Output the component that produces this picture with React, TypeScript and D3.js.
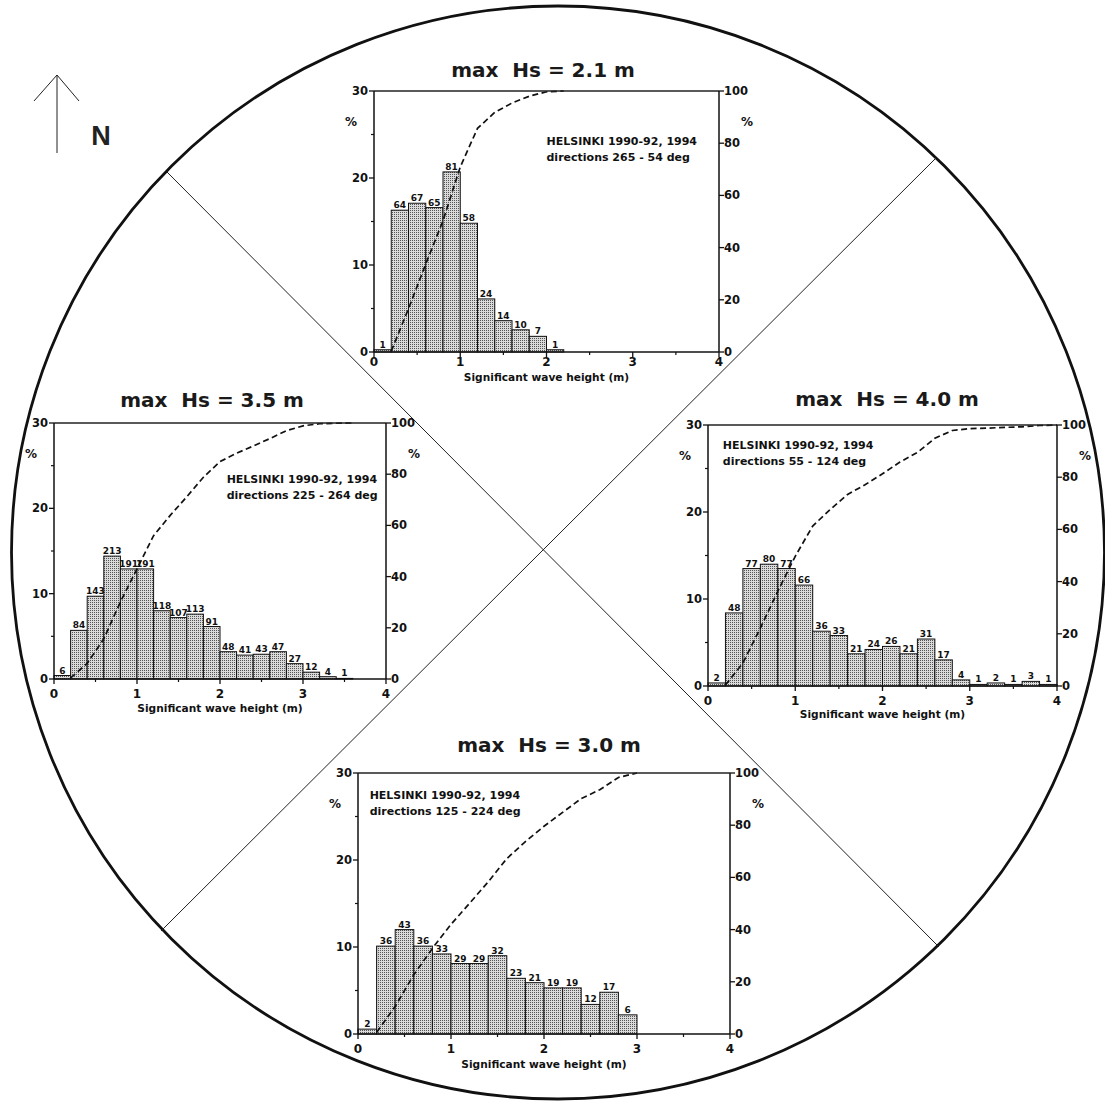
import React from "react";
import * as d3 from "d3";

// ---------- DATA ----------
const binEdges = [0, 0.2, 0.4, 0.6, 0.8, 1.0, 1.2, 1.4, 1.6, 1.8, 2.0, 2.2, 2.4, 2.6, 2.8, 3.0, 3.2, 3.4, 3.6, 3.8, 4.0];

const xTicks = [0, 1, 2, 3, 4];
const xMinorTicks = [0.5, 1.5, 2.5, 3.5];
const yTicks = [0, 10, 20, 30];
const yMinorTicks = [5, 15, 25];
const y2Ticks = [0, 20, 40, 60, 80, 100];

const stationText = "HELSINKI 1990-92, 1994";
const axisTitle = "Significant wave height (m)";

// Chart N (directions 265 - 54 deg)
const titleN = "max  Hs = 2.1 m";
const dirN = "directions 265 - 54 deg";
const countsN = [1, 64, 67, 65, 81, 58, 24, 14, 10, 7, 1];
const pctN = [0.26, 16.3, 17.1, 16.6, 20.7, 14.8, 6.1, 3.6, 2.55, 1.8, 0.26];
const cumN = [0.3, 16.6, 33.7, 50.3, 70.9, 85.7, 91.8, 95.4, 98.0, 99.7, 100];

// Chart W (directions 225 - 264 deg)
const titleW = "max  Hs = 3.5 m";
const dirW = "directions 225 - 264 deg";
const countsW = [6, 84, 143, 213, 191, 191, 118, 107, 113, 91, 48, 41, 43, 47, 27, 12, 4, 1];
const pctW = [0.41, 5.7, 9.7, 14.4, 12.9, 12.9, 8.0, 7.2, 7.6, 6.15, 3.2, 2.8, 2.9, 3.2, 1.8, 0.8, 0.27, 0.07];
const cumW = [0.4, 6.1, 15.7, 30.1, 43.0, 56.0, 63.9, 71.2, 78.8, 84.9, 88.2, 91.0, 93.9, 97.0, 98.9, 99.7, 99.9, 100];

// Chart E (directions 55 - 124 deg)
const titleE = "max  Hs = 4.0 m";
const dirE = "directions 55 - 124 deg";
const countsE = [2, 48, 77, 80, 77, 66, 36, 33, 21, 24, 26, 21, 31, 17, 4, 1, 2, 1, 3, 1];
const pctE = [0.35, 8.4, 13.5, 14.0, 13.5, 11.6, 6.3, 5.8, 3.7, 4.2, 4.55, 3.7, 5.4, 3.0, 0.7, 0.18, 0.35, 0.18, 0.53, 0.18];
const cumE = [0.35, 8.8, 22.2, 36.3, 49.7, 61.3, 67.6, 73.4, 77.1, 81.3, 85.8, 89.5, 94.9, 97.9, 98.6, 98.8, 99.1, 99.3, 99.8, 100];

// Chart S (directions 125 - 224 deg)
const titleS = "max  Hs = 3.0 m";
const dirS = "directions 125 - 224 deg";
const countsS = [2, 36, 43, 36, 33, 29, 29, 32, 23, 21, 19, 19, 12, 17, 6];
const pctS = [0.56, 10.1, 12.0, 10.1, 9.2, 8.1, 8.1, 9.0, 6.4, 5.9, 5.3, 5.3, 3.4, 4.8, 2.2];
const cumS = [0.6, 10.6, 22.7, 32.8, 42.0, 50.1, 58.3, 67.2, 73.7, 79.6, 84.9, 90.2, 93.6, 98.3, 100];

// ---------- LAYOUT ----------
const FONT = "'DejaVu Sans', sans-serif";

type Layout = {
  x0: number; x1: number; yTop: number; yBot: number;
  titleX: number; titleY: number;
  annX: number; annY: number;
  tickOff: number; axisTitleOff: number;
};

const layoutN: Layout = { x0: 374, x1: 719, yTop: 91, yBot: 352, titleX: 543, titleY: 77, annX: 2.0, annY: 23.8, tickOff: 14, axisTitleOff: 29 };
const layoutW: Layout = { x0: 54, x1: 386, yTop: 423, yBot: 679, titleX: 212, titleY: 407, annX: 2.08, annY: 23.0, tickOff: 19, axisTitleOff: 33 };
const layoutE: Layout = { x0: 708, x1: 1057, yTop: 425, yBot: 686, titleX: 887, titleY: 406, annX: 0.17, annY: 27.2, tickOff: 19, axisTitleOff: 32 };
const layoutS: Layout = { x0: 358, x1: 730, yTop: 773, yBot: 1034, titleX: 549, titleY: 752, annX: 0.125, annY: 27.0, tickOff: 19, axisTitleOff: 34 };

type ChartProps = {
  L: Layout; title: string; dir: string;
  counts: number[]; pct: number[]; cum: number[];
};

function Histogram({ L, title, dir, counts, pct, cum }: ChartProps) {
  const x = d3.scaleLinear().domain([0, 4]).range([L.x0, L.x1]);
  const y = d3.scaleLinear().domain([0, 30]).range([L.yBot, L.yTop]);
  const y2 = d3.scaleLinear().domain([0, 100]).range([L.yBot, L.yTop]);
  const line = d3
    .line<[number, number]>()
    .x((d) => x(d[0]))
    .y((d) => y2(d[1]));
  const cumPts: [number, number][] = cum.map((c, i) => [binEdges[i + 1], c]);

  return (
    <g>
      {/* title */}
      <text x={L.titleX} y={L.titleY} textAnchor="middle" fontFamily={FONT} fontWeight="bold" fontSize={20} fill="#1a1a1a" style={{ whiteSpace: "pre" }}>
        {title}
      </text>

      {/* bars */}
      {pct.map((p, i) => (
        <rect
          key={"b" + i}
          x={x(binEdges[i])}
          y={y(p)}
          width={x(binEdges[i + 1]) - x(binEdges[i])}
          height={y(0) - y(p)}
          fill="url(#stipple)"
          stroke="#111"
          strokeWidth={1}
        />
      ))}
      {/* bar labels */}
      {pct.map((p, i) => (
        <text
          key={"l" + i}
          x={x((binEdges[i] + binEdges[i + 1]) / 2)}
          y={y(p) - 2}
          textAnchor="middle"
          fontFamily={FONT}
          fontWeight="bold"
          fontSize={9}
          fill="#111"
        >
          {counts[i]}
        </text>
      ))}

      {/* cumulative dashed line */}
      <path d={line(cumPts) || ""} fill="none" stroke="#111" strokeWidth={1.7} strokeDasharray="6,3.5" />

      {/* frame */}
      <line x1={L.x0} x2={L.x1} y1={L.yTop} y2={L.yTop} stroke="#222" strokeWidth={1.5} />
      <line x1={L.x0} x2={L.x1} y1={L.yBot} y2={L.yBot} stroke="#111" strokeWidth={1.5} />
      <line x1={L.x0} x2={L.x0} y1={L.yTop} y2={L.yBot} stroke="#111" strokeWidth={1.5} />
      <line x1={L.x1} x2={L.x1} y1={L.yTop} y2={L.yBot} stroke="#111" strokeWidth={1.5} />

      {/* left y axis ticks */}
      {yTicks.map((t) => (
        <g key={"yt" + t}>
          <line x1={L.x0 - 5} x2={L.x0} y1={y(t)} y2={y(t)} stroke="#111" strokeWidth={1.3} />
          <text x={L.x0 - 6} y={y(t) + 4} textAnchor="end" fontFamily={FONT} fontWeight="bold" fontSize={11.5} fill="#111">
            {t}
          </text>
        </g>
      ))}
      {yMinorTicks.map((t) => (
        <line key={"ym" + t} x1={L.x0 - 3} x2={L.x0} y1={y(t)} y2={y(t)} stroke="#111" strokeWidth={1.2} />
      ))}
      {/* right y axis ticks */}
      {y2Ticks.map((t) => (
        <g key={"y2t" + t}>
          <line x1={L.x1} x2={L.x1 + 5} y1={y2(t)} y2={y2(t)} stroke="#111" strokeWidth={1.3} />
          <text x={L.x1 + 5} y={y2(t) + 4} textAnchor="start" fontFamily={FONT} fontWeight="bold" fontSize={11.5} fill="#111">
            {t}
          </text>
        </g>
      ))}
      {/* x axis ticks */}
      {xTicks.map((t) => (
        <g key={"xt" + t}>
          <line x1={x(t)} x2={x(t)} y1={L.yBot} y2={L.yBot + 5} stroke="#111" strokeWidth={1.3} />
          <text x={x(t)} y={L.yBot + L.tickOff} textAnchor="middle" fontFamily={FONT} fontWeight="bold" fontSize={12} fill="#111">
            {t}
          </text>
        </g>
      ))}
      {xMinorTicks.map((t) => (
        <line key={"xm" + t} x1={x(t)} x2={x(t)} y1={L.yBot} y2={L.yBot + 3} stroke="#111" strokeWidth={1.2} />
      ))}

      {/* % labels */}
      <text x={L.x0 - 23} y={L.yTop + 35} textAnchor="middle" fontFamily={FONT} fontWeight="bold" fontSize={12} fill="#111">%</text>
      <text x={L.x1 + 28} y={L.yTop + 35} textAnchor="middle" fontFamily={FONT} fontWeight="bold" fontSize={12} fill="#111">%</text>

      {/* axis title */}
      <text x={(L.x0 + L.x1) / 2} y={L.yBot + L.axisTitleOff} textAnchor="middle" fontFamily={FONT} fontWeight="bold" fontSize={10.6} fill="#111">
        {axisTitle}
      </text>

      {/* annotation */}
      <text x={x(L.annX)} y={y(L.annY)} fontFamily={FONT} fontWeight="bold" fontSize={11} fill="#111">
        {stationText}
      </text>
      <text x={x(L.annX)} y={y(L.annY) + 16} fontFamily={FONT} fontWeight="bold" fontSize={11} fill="#111">
        {dir}
      </text>
    </g>
  );
}

export default function App() {
  const cx = 558;
  const cy = 552.5;
  const r = 546.5;
  return (
    <svg width={1105} height={1102} style={{ position: "absolute", left: 0, top: 0, background: "#fff" }}>
      <defs>
        <pattern id="stipple" width={2} height={2} patternUnits="userSpaceOnUse">
          <rect width={2} height={2} fill="#dadada" />
          <rect width={1} height={1} fill="#555" />
        </pattern>
      </defs>
      <rect width={1105} height={1102} fill="#fff" />

      {/* compass circle and sector lines */}
      <circle cx={cx} cy={cy} r={r} fill="none" stroke="#111" strokeWidth={2.8} />
      <line x1={167} y1={172} x2={939} y2={947} stroke="#222" strokeWidth={1} />
      <line x1={936} y1={158} x2={161} y2={931} stroke="#222" strokeWidth={1} />

      {/* north arrow */}
      <line x1={57} y1={75} x2={57} y2={153} stroke="#222" strokeWidth={1} />
      <line x1={57} y1={75} x2={34} y2={101} stroke="#222" strokeWidth={1} />
      <line x1={57} y1={75} x2={79} y2={101} stroke="#222" strokeWidth={1} />
      <text x={101} y={145} textAnchor="middle" fontFamily="'Liberation Sans', Arial, sans-serif" fontWeight="bold" fontSize={27} fill="#222">
        N
      </text>

      <Histogram L={layoutN} title={titleN} dir={dirN} counts={countsN} pct={pctN} cum={cumN} />
      <Histogram L={layoutW} title={titleW} dir={dirW} counts={countsW} pct={pctW} cum={cumW} />
      <Histogram L={layoutE} title={titleE} dir={dirE} counts={countsE} pct={pctE} cum={cumE} />
      <Histogram L={layoutS} title={titleS} dir={dirS} counts={countsS} pct={pctS} cum={cumS} />
    </svg>
  );
}
